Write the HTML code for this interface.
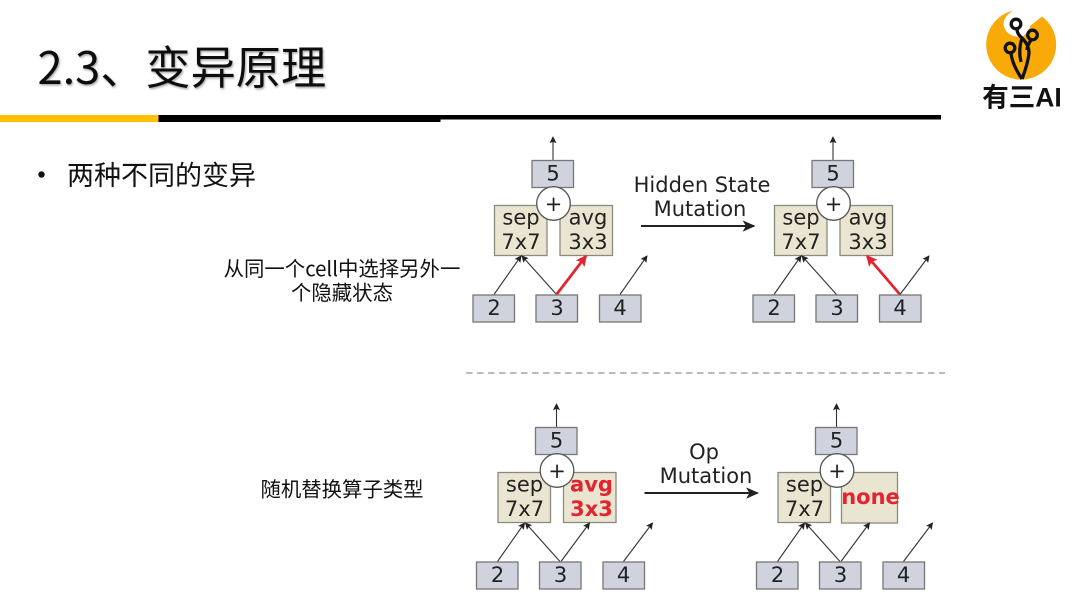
<!DOCTYPE html>
<html><head><meta charset="utf-8">
<style>
html,body{margin:0;padding:0;background:#fff}
body{width:1080px;height:608px;overflow:hidden}
svg{display:block;filter:blur(.35px)}
.d{font-family:"DejaVu Sans",sans-serif;font-size:21px;fill:#222;text-anchor:middle}
.z{font-family:"Noto Sans CJK SC",sans-serif;fill:#111}
.box{fill:#d0d3de;stroke:#777;stroke-width:1.3}
.op{fill:#eae5d0;stroke:#8a8a80;stroke-width:1.3}
.c{fill:#fff;stroke:#555;stroke-width:1.3}
.a{stroke:#333;stroke-width:1.1;fill:none}
.r{stroke:#e4232e;stroke-width:2.7;fill:none}
.bd{font-weight:bold;fill:#e4232e}
</style></head><body>
<svg width="1080" height="608" viewBox="0 0 1080 608" xmlns="http://www.w3.org/2000/svg">
<defs>
<filter id="s" x="-5%" y="-5%" width="110%" height="120%"><feDropShadow dx="1" dy="1.5" stdDeviation="1" flood-color="#000" flood-opacity=".35"/></filter>
<marker id="m" viewBox="0 0 8 8" refX="7" refY="4" markerWidth="7" markerHeight="7" markerUnits="userSpaceOnUse" orient="auto"><path d="M0 0L8 4L0 8L1.5 4z" fill="#222"/></marker>
<marker id="mr" viewBox="0 0 8 8" refX="7" refY="4" markerWidth="11" markerHeight="11" markerUnits="userSpaceOnUse" orient="auto"><path d="M0 0L8 4L0 8L1.5 4z" fill="#e4232e"/></marker>
<marker id="mb" viewBox="0 0 8 8" refX="7" refY="4" markerWidth="13" markerHeight="13" markerUnits="userSpaceOnUse" orient="auto"><path d="M0 .5L8 4L0 7.5L2 4z" fill="#222"/></marker>
</defs>

<text class="z" x="37.500" y="84" font-size="45.200" filter="url(#s)">2.3、变异原理</text>
<rect x="0" y="115" width="158.5" height="7" fill="#ffc000"/>
<rect x="158.5" y="115" width="282" height="7" fill="#000"/>
<rect x="440" y="115" width="501" height="4.5" fill="#000"/>

<circle cx="41.5" cy="174.5" r="3.2" fill="#111"/>
<text class="z" x="67" y="185" font-size="27">两种不同的变异</text>
<text class="z" x="342" y="276" font-size="20.400" text-anchor="middle">从同一个cell中选择另外一</text>
<text class="z" x="342" y="300" font-size="20.400" text-anchor="middle">个隐藏状态</text>
<text class="z" x="342" y="496.500" font-size="20.400" text-anchor="middle">随机替换算子类型</text>

<!-- logo -->
<path d="M1013 10.600A35 35 0 1 0 1042 16.500L1030 26Q1030 31 1022 37Q1006 37 1003.500 25Q1003 17 1013 10.600z" fill="#f9a908"/>
<g fill="none" stroke="#111" stroke-width="3.300">
<circle cx="1016" cy="24" r="4.800"/><circle cx="1032.500" cy="35" r="4.800"/><circle cx="1010" cy="48" r="4.800"/>
<path d="M1017 29Q1017 34 1022 38Q1029 45 1029 53Q1028 63 1022 79"/>
<path d="M1031 40Q1027 46 1027 50"/>
<path d="M1011 53Q1012 64 1022 79"/>
<path d="M1022 38Q1018 50 1021 62"/>
</g>
<text x="1022" y="106.500" font-size="26.500" font-weight="bold" text-anchor="middle" fill="#111" style="font-family:'Liberation Sans','Noto Sans CJK SC',sans-serif">有三AI</text>

<!-- panel 1 -->
<g>
<path class="a" d="M553 160V137" marker-end="url(#m)"/>
<rect class="box" x="532" y="160.5" width="41.5" height="27"/>
<text class="d" x="553" y="180.500">5</text>
<rect class="op" x="494.5" y="205.5" width="52.5" height="50"/>
<rect class="op" x="560" y="205.5" width="52.5" height="50"/>
<text class="d" x="521" y="224.500">sep</text><text class="d" x="521" y="249">7x7</text>
<text class="d" x="588" y="224.500">avg</text><text class="d" x="588" y="249">3x3</text>
<circle class="c" cx="553.5" cy="203.5" r="16.8"/>
<text class="d" x="553.5" y="211">+</text>
<path class="a" d="M494 294.5L521 256" marker-end="url(#m)"/>
<path class="a" d="M556.5 294.5L522 256" marker-end="url(#m)"/>
<path class="r" d="M556.5 294.5L586 256" marker-end="url(#mr)"/>
<path class="a" d="M620 294.5L647 256" marker-end="url(#m)"/>
<rect class="box" x="473" y="295" width="41.5" height="27"/><text class="d" x="494" y="315">2</text>
<rect class="box" x="536" y="295" width="41.5" height="27"/><text class="d" x="557" y="315">3</text>
<rect class="box" x="599.500" y="295" width="41.5" height="27"/><text class="d" x="620" y="315">4</text>
</g>

<text class="d" x="702" y="192">Hidden State</text>
<text class="d" x="700" y="216">Mutation</text>
<path d="M641 226H754" stroke="#222" stroke-width="2" fill="none" marker-end="url(#mb)"/>

<!-- panel 2 -->
<g transform="translate(280,0)">
<path class="a" d="M553 160V137" marker-end="url(#m)"/>
<rect class="box" x="532" y="160.5" width="41.5" height="27"/>
<text class="d" x="553" y="180.500">5</text>
<rect class="op" x="494.5" y="205.5" width="52.5" height="50"/>
<rect class="op" x="560" y="205.5" width="52.5" height="50"/>
<text class="d" x="521" y="224.500">sep</text><text class="d" x="521" y="249">7x7</text>
<text class="d" x="588" y="224.500">avg</text><text class="d" x="588" y="249">3x3</text>
<circle class="c" cx="553.5" cy="203.5" r="16.8"/>
<text class="d" x="553.5" y="211">+</text>
<path class="a" d="M494 294.5L521 256" marker-end="url(#m)"/>
<path class="a" d="M556.5 294.5L522 256" marker-end="url(#m)"/>
<path class="r" d="M620 294.5L587 256" marker-end="url(#mr)"/>
<path class="a" d="M620 294.5L649 256" marker-end="url(#m)"/>
<rect class="box" x="473" y="295" width="41.5" height="27"/><text class="d" x="494" y="315">2</text>
<rect class="box" x="536" y="295" width="41.5" height="27"/><text class="d" x="557" y="315">3</text>
<rect class="box" x="599.500" y="295" width="41.5" height="27"/><text class="d" x="620" y="315">4</text>
</g>

<path d="M466 373H945" stroke="#777" stroke-width="1" stroke-dasharray="6.500 4.500" fill="none"/>

<!-- panel 3 -->
<g transform="translate(3.5,267)">
<path class="a" d="M553 160V137" marker-end="url(#m)"/>
<rect class="box" x="532" y="160.5" width="41.5" height="27"/>
<text class="d" x="553" y="180.500">5</text>
<rect class="op" x="494.5" y="205.5" width="52.5" height="50"/>
<rect class="op" x="560" y="205.5" width="52.5" height="50"/>
<text class="d" x="521" y="224.500">sep</text><text class="d" x="521" y="249">7x7</text>
<text class="d bd" x="588" y="224.500">avg</text><text class="d bd" x="588" y="249">3x3</text>
<circle class="c" cx="553.5" cy="203.5" r="16.8"/>
<text class="d" x="553.5" y="211">+</text>
<path class="a" d="M494 294.5L521 256" marker-end="url(#m)"/>
<path class="a" d="M556.5 294.5L522 256" marker-end="url(#m)"/>
<path class="a" d="M557.5 294.5L586 256" marker-end="url(#m)"/>
<path class="a" d="M620 294.5L649 256" marker-end="url(#m)"/>
<rect class="box" x="473" y="295" width="41.5" height="27"/><text class="d" x="494" y="315">2</text>
<rect class="box" x="536" y="295" width="41.5" height="27"/><text class="d" x="557" y="315">3</text>
<rect class="box" x="599.500" y="295" width="41.5" height="27"/><text class="d" x="620" y="315">4</text>
</g>

<text class="d" x="704" y="459">Op</text>
<text class="d" x="706" y="483">Mutation</text>
<path d="M644.500 493H757.500" stroke="#222" stroke-width="2" fill="none" marker-end="url(#mb)"/>

<!-- panel 4 -->
<g transform="translate(283.500,267)">
<path class="a" d="M553 160V137" marker-end="url(#m)"/>
<rect class="box" x="532" y="160.5" width="41.5" height="27"/>
<text class="d" x="553" y="180.500">5</text>
<rect class="op" x="494.5" y="205.5" width="52.5" height="50"/>
<rect class="op" x="558" y="205.5" width="56" height="50.500"/>
<text class="d" x="521" y="224.500">sep</text><text class="d" x="521" y="249">7x7</text>
<text class="d bd" x="587" y="237">none</text>
<circle class="c" cx="553.5" cy="203.5" r="16.8"/>
<text class="d" x="553.5" y="211">+</text>
<path class="a" d="M494 294.5L521 256" marker-end="url(#m)"/>
<path class="a" d="M556.5 294.5L522 256" marker-end="url(#m)"/>
<path class="a" d="M557.5 294.5L586 256" marker-end="url(#m)"/>
<path class="a" d="M620 294.5L649 256" marker-end="url(#m)"/>
<rect class="box" x="473" y="295" width="41.5" height="27"/><text class="d" x="494" y="315">2</text>
<rect class="box" x="536" y="295" width="41.5" height="27"/><text class="d" x="557" y="315">3</text>
<rect class="box" x="599.500" y="295" width="41.5" height="27"/><text class="d" x="620" y="315">4</text>
</g>
</svg>
</body></html>
